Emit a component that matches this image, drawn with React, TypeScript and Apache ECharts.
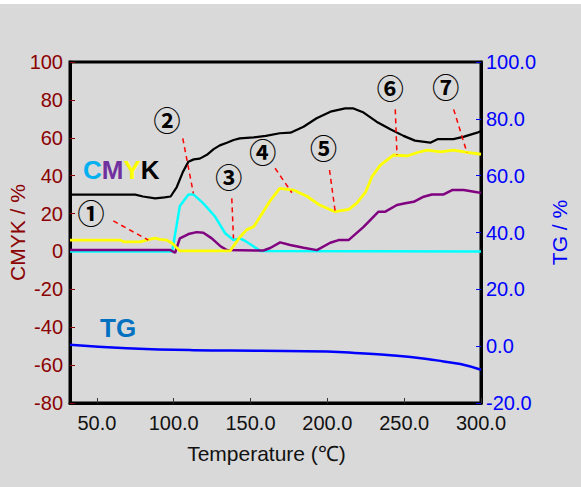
import React, { useEffect, useRef } from "react";
import * as echarts from "echarts";

// Temperature (°C) and values
const kTemp = [32.5, 75, 80, 88, 94, 98, 102, 106, 109.6, 113, 117, 121.6, 126, 130, 134.6, 139, 143, 152, 160, 169, 176, 184.5, 193, 202, 211.6, 217, 223.6, 232, 241, 249.6, 257, 262, 267, 272, 282, 289, 297.5, 300];
const kVal = [30, 30, 29, 28, 28.5, 29, 34, 42, 47.4, 48.6, 49, 51, 54, 56, 57.4, 58.8, 59.7, 60.2, 61, 62.4, 62.7, 65.8, 70.3, 73.8, 75.5, 75.5, 73.3, 68.5, 64.5, 61, 58.5, 58, 57.4, 59.3, 59.3, 60.6, 62.7, 63.5];

const yTemp = [32.5, 65, 68, 78, 85, 88, 91, 95.5, 99, 104, 136.7, 143, 147.6, 152, 156, 163, 169, 178, 187, 195, 205, 214, 219, 225, 229, 234.5, 243, 252, 258, 265, 273.5, 282, 291, 300];
const yVal = [6, 6, 5, 5, 6.5, 7, 6.4, 6, 4.3, 0.3, 0.3, 7.5, 11.5, 13, 18, 27, 33.3, 32.4, 29, 24.5, 21, 22.2, 25.4, 31.5, 39.4, 45.6, 50.9, 50.4, 52.1, 53.5, 52.6, 53.5, 52.3, 51.3];

const mTemp = [32.5, 97.6, 100.9, 104, 109.6, 115, 119.3, 124.8, 130.2, 134.6, 156.3, 158.4, 162.8, 169.3, 175.8, 184.5, 193.2, 201.9, 207.3, 213.8, 223.6, 233.3, 237.7, 245.3, 250.7, 256.2, 262.7, 268, 275.7, 281.2, 288.7, 297.5, 300];
const mVal = [0.8, 0.8, -0.7, 6.9, 9.2, 10.2, 9.9, 6.9, 2.9, 0.7, 0.5, 0.5, 1.8, 4.8, 3.4, 2, 0.7, 4.6, 6, 6, 13, 21, 21, 24.5, 25.4, 26.2, 28.9, 30.1, 30.1, 32.4, 32.4, 31.2, 31];

const cTemp = [32.5, 99, 104, 109.6, 112.8, 119.3, 127, 133.5, 138.9, 143.2, 147.6, 156.3, 300];
const cVal = [0, 0, 24, 30.1, 30.1, 25.4, 18.3, 9.6, 6, 6.9, 5, 0.3, 0];

const tgTemp = [32.5, 69.4, 112.8, 156.3, 199.7, 221.4, 243.1, 264.9, 275.7, 286.6, 300];
const tgVal = [0.5, -0.7, -1.4, -1.6, -1.9, -2.5, -3.3, -4.5, -5.4, -6.3, -8.3];

const xTicks = [50, 100, 150, 200, 250, 300];

// Annotation marks (data coordinates on the left axis)
const markLabels = ["①", "②", "③", "④", "⑤", "⑥", "⑦"];
const markLabelPos = [[46.2, 20.8], [95.7, 69.9], [135.8, 39.3], [157.9, 52.5], [197.5, 54.9], [241, 86.8], [277.1, 87.1]];
const markLineFrom = [[60.7, 16.1], [105.9, 59.7], [137.8, 28], [166, 43.9], [201.4, 43], [244.2, 75], [282.2, 75]];
const markLineTo = [[83.5, 6.0], [112.8, 30.7], [138.9, 6.9], [176.9, 31], [205.1, 21], [245.3, 50.9], [290.9, 52.1]];

const FONT = '"Liberation Sans", Arial, sans-serif';
const DARK_RED = "#8b0000";
const BLUE = "#0000ff";

const zip = (xs: number[], ys: number[]) => xs.map((x, i) => [x, ys[i]]);

export default function App() {
  const ref = useRef<HTMLDivElement>(null);
  useEffect(() => {
    document.body.style.margin = "0";
    const chart = echarts.init(ref.current!, null, { renderer: "svg" });
    chart.setOption({
      animation: false,
      backgroundColor: "#d9d9d9",
      textStyle: { fontFamily: FONT },
      grid: {
        left: 70,
        right: 100,
        top: 62,
        bottom: 84,
        containLabel: false,
        outerBoundsMode: "none",
        show: true,
        borderColor: "#000",
        borderWidth: 3,
        backgroundColor: "transparent",
      },
      xAxis: {
        type: "value",
        min: 32.5,
        max: 300,
        name: "Temperature (℃)",
        nameLocation: "middle",
        nameGap: 40,
        nameTextStyle: { color: "#111", fontSize: 21, fontFamily: FONT, padding: [0, 18, 0, 0] },
        axisLine: { show: true, onZero: false, lineStyle: { color: "#000", width: 3 } },
        axisTick: { show: true, inside: true, length: 5, customValues: xTicks, lineStyle: { color: "#333", width: 1 } },
        axisLabel: {
          customValues: xTicks,
          color: "#111",
          fontSize: 20,
          fontFamily: FONT,
          margin: 10,
          formatter: (v: number) => v.toFixed(1),
        },
        splitLine: { show: false },
      },
      yAxis: [
        {
          type: "value",
          min: -80,
          max: 100,
          interval: 20,
          position: "left",
          name: "CMYK / %",
          nameLocation: "middle",
          nameGap: 42,
          nameMoveOverlap: false,
          nameTextStyle: { color: DARK_RED, fontSize: 21, fontFamily: FONT },
          axisLine: { show: true, lineStyle: { color: "#000", width: 3 } },
          axisTick: { show: true, inside: true, length: 5, lineStyle: { color: DARK_RED, width: 1 } },
          axisLabel: { color: DARK_RED, fontSize: 20, fontFamily: FONT, margin: 7 },
          splitLine: { show: false },
        },
        {
          type: "value",
          min: -20,
          max: 100,
          interval: 20,
          position: "right",
          name: "TG / %",
          nameLocation: "middle",
          nameGap: 68,
          nameTextStyle: { color: BLUE, fontSize: 21, fontFamily: FONT },
          axisLine: { show: true, lineStyle: { color: "#000", width: 3 } },
          axisTick: { show: true, inside: true, length: 5, lineStyle: { color: BLUE, width: 1 } },
          axisLabel: { color: BLUE, fontSize: 20, fontFamily: FONT, margin: 5, formatter: (v: number) => v.toFixed(1) },
          splitLine: { show: false },
        },
      ],
      series: [
        { name: "K", type: "line", yAxisIndex: 0, data: zip(kTemp, kVal), symbol: "none", lineStyle: { color: "#000", width: 2.2 }, z: 4 },
        { name: "C", type: "line", yAxisIndex: 0, data: zip(cTemp, cVal), symbol: "none", lineStyle: { color: "#00ffff", width: 2.5 }, z: 1 },
        { name: "M", type: "line", yAxisIndex: 0, data: zip(mTemp, mVal), symbol: "none", lineStyle: { color: "#800080", width: 2.5 }, z: 2 },
        { name: "Y", type: "line", yAxisIndex: 0, data: zip(yTemp, yVal), symbol: "none", lineStyle: { color: "#ffff00", width: 2.8 }, z: 3 },
        { name: "TG", type: "line", yAxisIndex: 1, data: zip(tgTemp, tgVal), symbol: "none", smooth: true, lineStyle: { color: BLUE, width: 2.5 }, z: 5 },
      ],
    });

    const toPx = (p: number[]) => chart.convertToPixel({ seriesIndex: 0 }, p) as number[];
    const graphics: any[] = [
      { type: "rect", shape: { x: 0, y: 0, width: 581, height: 4 }, style: { fill: "#fff" }, silent: true },
      {
        type: "text",
        x: 83,
        y: 170,
        style: {
          text: "{c|C}{m|M}{y|Y}{k|K}",
          verticalAlign: "middle",
          rich: {
            c: { fill: "#00b0f0", fontSize: 26, fontWeight: "bold", fontFamily: FONT },
            m: { fill: "#7030a0", fontSize: 26, fontWeight: "bold", fontFamily: FONT },
            y: { fill: "#ffff00", fontSize: 26, fontWeight: "bold", fontFamily: FONT },
            k: { fill: "#000", fontSize: 26, fontWeight: "bold", fontFamily: FONT },
          },
        },
        z: 10,
      },
      {
        type: "text",
        x: 100,
        y: 328,
        style: { text: "TG", fill: "#0070c0", fontSize: 26, fontWeight: "bold", fontFamily: FONT, verticalAlign: "middle" },
        z: 10,
      },
    ];
    markLabels.forEach((lab, i) => {
      const p = toPx(markLabelPos[i]);
      graphics.push({
        type: "text",
        x: p[0],
        y: p[1],
        style: { text: lab, fill: "#000", fontSize: 27, fontWeight: "bold", fontFamily: '"Noto Sans CJK JP", "DejaVu Sans", sans-serif', align: "center", verticalAlign: "middle" },
        z: 10,
      });
      const a = toPx(markLineFrom[i]);
      const b = toPx(markLineTo[i]);
      graphics.push({
        type: "line",
        shape: { x1: a[0], y1: a[1], x2: b[0], y2: b[1] },
        style: { stroke: "#ff0000", lineWidth: 1.5, lineDash: [5, 4] },
        z: 10,
      });
    });
    chart.setOption({ graphic: graphics });
    return () => chart.dispose();
  }, []);
  return <div ref={ref} style={{ position: "absolute", left: 0, top: 0, width: 581, height: 487 }} />;
}
